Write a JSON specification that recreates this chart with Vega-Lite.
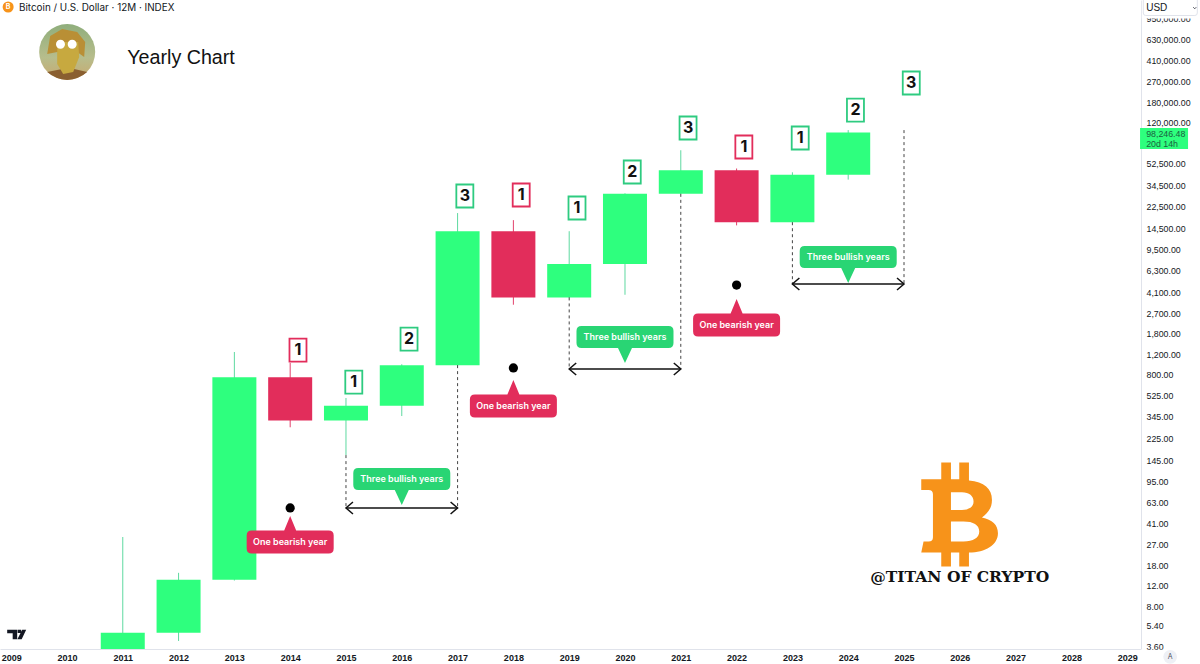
{"$schema":"https://vega.github.io/schema/vega-lite/v6.json","width":1141,"height":649,"autosize":{"type":"none"},"padding":{"left":0,"top":0,"right":59,"bottom":15},"background":"white","config":{"view":{"stroke":null}},
"datasets":{
"wicks":[{"year":2011,"value":3.41,"high":31.6,"dir":"up"},{"year":2012,"value":4,"high":15.5,"dir":"up"},{"year":2013,"value":13.3,"high":1250,"dir":"up"},{"year":2014,"value":280,"high":1005,"dir":"down"},{"year":2015,"value":161,"high":501,"dir":"up"},{"year":2016,"value":350,"high":980,"dir":"up"},{"year":2017,"value":950,"high":19800,"dir":"up"},{"year":2018,"value":3200,"high":17200,"dir":"down"},{"year":2019,"value":3650,"high":13800,"dir":"up"},{"year":2020,"value":3900,"high":29300,"dir":"up"},{"year":2021,"value":28800,"high":69000,"dir":"up"},{"year":2022,"value":15500,"high":48000,"dir":"down"},{"year":2023,"value":16400,"high":44500,"dir":"up"},{"year":2024,"value":38500,"high":103000,"dir":"up"}],
"bodies":[{"year":2011,"value":3.41,"close":4.7,"dir":"up"},{"year":2012,"value":4.7,"close":13.5,"dir":"up"},{"year":2013,"value":13.5,"close":755,"dir":"up"},{"year":2014,"value":755,"close":320,"dir":"down"},{"year":2015,"value":320,"close":430,"dir":"up"},{"year":2016,"value":430,"close":963,"dir":"up"},{"year":2017,"value":963,"close":13800,"dir":"up"},{"year":2018,"value":13800,"close":3700,"dir":"down"},{"year":2019,"value":3700,"close":7200,"dir":"up"},{"year":2020,"value":7200,"close":29000,"dir":"up"},{"year":2021,"value":29000,"close":46300,"dir":"up"},{"year":2022,"value":46300,"close":16500,"dir":"down"},{"year":2023,"value":16500,"close":42300,"dir":"up"},{"year":2024,"value":42300,"close":98246,"dir":"up"}],
"numbers":[{"year":2014.14,"value":1300,"label":"1","dir":"down"},{"year":2015.14,"value":688,"label":"1","dir":"up"},{"year":2016.13,"value":1618,"label":"2","dir":"up"},{"year":2017.13,"value":27800,"label":"3","dir":"up"},{"year":2018.14,"value":28340,"label":"1","dir":"down"},{"year":2019.14,"value":21900,"label":"1","dir":"up"},{"year":2020.13,"value":44800,"label":"2","dir":"up"},{"year":2021.13,"value":107400,"label":"3","dir":"up"},{"year":2022.13,"value":73600,"label":"1","dir":"down"},{"year":2023.14,"value":88000,"label":"1","dir":"up"},{"year":2024.13,"value":153500,"label":"2","dir":"up"},{"year":2025.13,"value":262700,"label":"3","dir":"up"}],
"dashes":[{"year":2015,"value":161,"to":56},{"year":2017,"value":963,"to":56},{"year":2019,"value":3700,"to":892},{"year":2021,"value":29000,"to":892},{"year":2023,"value":16500,"to":4831},{"year":2025,"value":103000,"to":4831}],
"arrows":[{"year":2015,"end":2017,"value":56.3},{"year":2019,"end":2021,"value":892},{"year":2023,"end":2025,"value":4831}],
"arrowEnds":[{"year":2017,"value":56.3},{"year":2021,"value":892},{"year":2025,"value":4831}],
"dots":[{"year":2014,"value":56.3},{"year":2018,"value":910},{"year":2022,"value":4733}],
"bear":[{"year":2014,"value":28.6,"label":"One bearish year"},{"year":2018,"value":427,"label":"One bearish year"},{"year":2022,"value":2136,"label":"One bearish year"}],
"bull":[{"year":2016,"value":100,"label":"Three bullish years"},{"year":2020,"value":1683,"label":"Three bullish years"},{"year":2024,"value":8258,"label":"Three bullish years"}],
"avatar":[{"year":2010.004,"value":486600}],
"icon":[{"year":2008.946,"value":1190000,"label":"B"}],
"header":[{"year":2009.14,"value":1190000,"label":"Bitcoin / U.S. Dollar · 12M · INDEX"}],
"title":[{"year":2011.08,"value":431800,"label":"Yearly Chart"}],
"logo":[{"year":2025.99,"value":50}],
"handle":[{"year":2026.0,"value":14.3,"label":"@TITAN OF CRYPTO"}],
"tv":[{"year":2009.09,"value":4.58}],
"usdbox":[{"year":2029.79,"value":1167000}],
"usd":[{"year":2029.34,"value":1167000,"label":"USD"}],
"chev":[{"year":2030.21,"value":1167000}],
"tag":[{"year":2029.66,"value":87100}],
"tagtext":[{"year":2029.34,"value":96250,"label":"98,246.48"},{"year":2029.34,"value":78100,"label":"20d 14h"}],
"corner":[{"year":2029.77,"value":2.92,"label":"A"}]
},
"encoding":{
"x":{"field":"year","type":"quantitative","scale":{"type":"linear","domain":[2008.8,2029.247],"nice":false,"zero":false,"padding":0},"axis":{"orient":"bottom","title":null,"values":[2009,2010,2011,2012,2013,2014,2015,2016,2017,2018,2019,2020,2021,2022,2023,2024,2025,2026,2027,2028,2029],"format":"d","grid":false,"ticks":false,"domainColor":"#e0e3eb","labelFont":"Liberation Sans","labelFontSize":9,"labelFontWeight":"bold","labelColor":"#131722","labelPadding":4,"labelOverlap":false,"labelFlush":false}},
"y":{"field":"value","type":"quantitative","scale":{"type":"log","domain":[3.41,1368000],"nice":false,"zero":false,"padding":0},"axis":{"orient":"right","title":null,"values":[950000,630000,410000,270000,180000,120000,52500,34500,22500,14500,9500,6300,4100,2700,1800,1200,800,525,345,225,145,95,63,41,27,18,12,8,5.4,3.6],"format":",.2f","grid":false,"ticks":false,"domainColor":"#e0e3eb","labelFont":"Liberation Sans","labelFontSize":8.8,"labelColor":"#131722","labelPadding":5,"labelOverlap":false,"labelFlush":false}}
},
"layer":[
{"data":{"name":"wicks"},"mark":{"type":"rule","strokeWidth":1},"encoding":{"y2":{"field":"high"},"color":{"condition":{"test":"datum.dir=='up'","value":"#5ed9a0"},"value":"#e2416b"}}},
{"data":{"name":"bodies"},"mark":{"type":"bar","size":44},"encoding":{"y2":{"field":"close"},"color":{"condition":{"test":"datum.dir=='up'","value":"#2eff7e"},"value":"#e22d5b"}}},
{"data":{"name":"dashes"},"mark":{"type":"rule","strokeWidth":1,"strokeDash":[3,3],"color":"#444444"},"encoding":{"y2":{"field":"to"}}},
{"data":{"name":"arrows"},"mark":{"type":"rule","strokeWidth":1.5,"color":"#111111"},"encoding":{"x2":{"field":"end"}}},
{"data":{"name":"arrows"},"mark":{"type":"point","shape":"M.07,-.06 L0,0 L.07,.06","size":40000,"filled":false,"fill":"transparent","stroke":"#111111","strokeWidth":1.5,"opacity":1}},
{"data":{"name":"arrowEnds"},"mark":{"type":"point","shape":"M-.07,-.06 L0,0 L-.07,.06","size":40000,"filled":false,"fill":"transparent","stroke":"#111111","strokeWidth":1.5,"opacity":1}},
{"data":{"name":"dots"},"mark":{"type":"point","shape":"circle","size":85,"filled":true,"color":"#000000","opacity":1}},
{"data":{"name":"bear"},"mark":{"type":"point","shape":"M-.385,-.115 L-.06,-.115 L0,-.26 L.06,-.115 L.385,-.115 Q.435,-.115 .435,-.065 L.435,.065 Q.435,.115 .385,.115 L-.385,.115 Q-.435,.115 -.435,.065 L-.435,-.065 Q-.435,-.115 -.385,-.115 Z","size":40000,"filled":true,"color":"#e22d5b","opacity":1}},
{"data":{"name":"bear"},"mark":{"type":"text","font":"Inter","fontWeight":600,"fontSize":9,"color":"#ffffff","align":"center","baseline":"middle"},"encoding":{"text":{"field":"label"}}},
{"data":{"name":"bull"},"mark":{"type":"point","shape":"M-.435,-.11 L.435,-.11 Q.485,-.11 .485,-.06 L.485,.06 Q.485,.11 .435,.11 L.07,.11 L0,.26 L-.07,.11 L-.435,.11 Q-.485,.11 -.485,.06 L-.485,-.06 Q-.485,-.11 -.435,-.11 Z","size":40000,"filled":true,"color":"#29d574","opacity":1}},
{"data":{"name":"bull"},"mark":{"type":"text","font":"Inter","fontWeight":600,"fontSize":9,"color":"#ffffff","align":"center","baseline":"middle"},"encoding":{"text":{"field":"label"}}},
{"data":{"name":"numbers"},"mark":{"type":"point","shape":"M-.085,-.115 L.085,-.115 L.085,.115 L-.085,.115 Z","size":40000,"filled":true,"fill":"#ffffff","strokeWidth":1.8,"opacity":1},"encoding":{"stroke":{"condition":{"test":"datum.dir=='up'","value":"#2ecb80"},"value":"#e22d5b"}}},
{"data":{"name":"numbers"},"mark":{"type":"text","font":"Inter","fontWeight":"bold","fontSize":16,"color":"#111111","align":"center","baseline":"middle"},"encoding":{"text":{"field":"label"}}},
{"data":{"name":"avatar"},"mark":{"type":"point","shape":"circle","size":3136,"filled":true,"opacity":1,"color":{"gradient":"linear","x1":0,"y1":0,"x2":0,"y2":1,"stops":[{"offset":0,"color":"#8fae7c"},{"offset":0.6,"color":"#b7bd8c"},{"offset":1,"color":"#c9a96e"}]}}},
{"data":{"name":"avatar"},"mark":{"type":"point","shape":"M-.2,.02 L-.17,-.16 L-.05,-.23 L.1,-.2 L.18,-.1 L.17,.05 L.1,.0 L-.1,.0 Z","size":40000,"filled":true,"color":"#b98f35","opacity":1}},
{"data":{"name":"avatar"},"mark":{"type":"point","shape":"M-.05,.17 L.07,.17 L.2,.2 Q.12,.27 0,.28 Q-.12,.27 -.2,.2 Z","size":40000,"filled":true,"color":"#8a5f30","opacity":1}},
{"data":{"name":"avatar"},"mark":{"type":"point","shape":"M-.1,-.1 L.11,-.1 L.12,.05 L.06,.2 L-.04,.22 L-.1,.12 Z","size":40000,"filled":true,"color":"#c7a93f","opacity":1}},
{"data":{"name":"avatar"},"mark":{"type":"point","shape":"M-.112,-.077 A.045,.045 0 1,0 -.022,-.077 A.045,.045 0 1,0 -.112,-.077 Z M.005,-.077 A.045,.045 0 1,0 .095,-.077 A.045,.045 0 1,0 .005,-.077 Z","size":40000,"filled":true,"color":"#ffffff","opacity":1}},
{"data":{"name":"icon"},"mark":{"type":"point","shape":"circle","size":121,"filled":true,"color":"#f7931a","opacity":1}},
{"data":{"name":"icon"},"mark":{"type":"text","font":"Inter","fontWeight":"bold","fontSize":7,"color":"#ffffff","align":"center","baseline":"middle"},"encoding":{"text":{"field":"label"}}},
{"data":{"name":"header"},"mark":{"type":"text","font":"Inter","fontSize":9.9,"color":"#131722","align":"left","baseline":"middle","dy":1},"encoding":{"text":{"field":"label"}}},
{"data":{"name":"title"},"mark":{"type":"text","font":"Liberation Sans","fontSize":19.7,"color":"#111111","align":"left","baseline":"middle"},"encoding":{"text":{"field":"label"}}},
{"data":{"name":"logo"},"mark":{"type":"point","shape":"M-.18,-.513 L-.083,-.513 L-.083,-.347 L0,-.347 L0,-.513 L.097,-.513 L.097,-.333 C.25,-.32 .327,-.25 .327,-.14 C.327,-.05 .28,-.01 .227,.037 C.33,.06 .387,.11 .387,.193 C.387,.31 .26,.385 .097,.387 L.097,.527 L0,.527 L0,.387 L-.083,.387 L-.083,.527 L-.18,.527 L-.18,.387 L-.38,.387 L-.357,.277 L-.307,.277 Q-.263,.277 -.263,.233 L-.263,-.197 Q-.263,-.24 -.307,-.24 L-.38,-.24 L-.38,-.347 L-.18,-.347 Z M-.083,-.217 L-.083,-.04 L.027,-.04 C.1,-.04 .143,-.07 .143,-.123 C.143,-.18 .1,-.217 .027,-.217 Z M-.083,.077 L-.083,.277 L.043,.277 C.14,.277 .2,.24 .2,.177 C.2,.11 .14,.077 .043,.077 Z","size":40000,"filled":true,"color":"#f7931a","opacity":1}},
{"data":{"name":"handle"},"mark":{"type":"text","font":"DejaVu Serif","fontWeight":"bold","fontSize":15.5,"color":"#111111","align":"center","baseline":"middle"},"encoding":{"text":{"field":"label"}}},
{"data":{"name":"tv"},"mark":{"type":"point","shape":"M-.09,-.045 L.01,-.045 L.01,.05 L-.035,.05 L-.035,-.01 L-.09,-.01 Z M.015,-.045 L.05,-.045 L.05,-.012 L.015,-.012 Z M.06,-.045 L.1,-.045 L.055,.05 L.012,.05 Z","size":40000,"filled":true,"color":"#131722","opacity":1}},
{"data":{"name":"usdbox"},"mark":{"type":"point","shape":"M-.295,-.1 L.3,-.1 L.3,.105 L-.295,.105 Z","size":40000,"filled":true,"color":"#ffffff","opacity":1}},
{"data":{"name":"usdbox"},"mark":{"type":"point","shape":"M-.28,-.1 L-.28,.05 Q-.28,.075 -.255,.075 L.235,.075 Q.26,.075 .26,.05 L.26,-.1","size":40000,"filled":false,"fill":"transparent","stroke":"#e0e3eb","strokeWidth":1,"opacity":1}},
{"data":{"name":"usd"},"mark":{"type":"text","font":"Liberation Sans","fontSize":10,"color":"#131722","align":"left","baseline":"middle"},"encoding":{"text":{"field":"label"}}},
{"data":{"name":"chev"},"mark":{"type":"point","shape":"M-.015,-.008 L0,.008 L.015,-.008","size":40000,"filled":false,"fill":"transparent","stroke":"#50535e","strokeWidth":1,"opacity":1}},
{"data":{"name":"tag"},"mark":{"type":"point","shape":"M-.24,-.105 L.24,-.105 L.24,.105 L-.24,.105 Z","size":40000,"filled":true,"color":"#2eff7e","opacity":1}},
{"data":{"name":"tagtext"},"mark":{"type":"text","font":"Liberation Sans","fontSize":8.8,"color":"#1b5e40","align":"left","baseline":"middle"},"encoding":{"text":{"field":"label"}}},
{"data":{"name":"corner"},"mark":{"type":"point","shape":"M-.295,-.07 L.295,-.07 L.295,.07 L-.295,.07 Z","size":40000,"filled":true,"color":"#ffffff","opacity":1}},
{"data":{"name":"corner"},"mark":{"type":"point","shape":"circle","size":190,"filled":true,"color":"#eef0f5","opacity":1}},
{"data":{"name":"corner"},"mark":{"type":"text","font":"Inter","fontSize":7,"color":"#50535e","align":"center","baseline":"middle"},"encoding":{"text":{"field":"label"}}}
]}
